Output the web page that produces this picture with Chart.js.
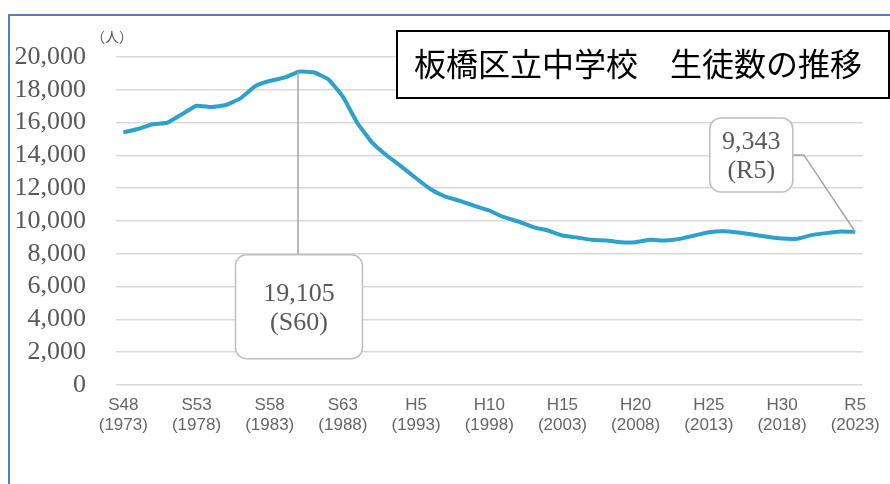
<!DOCTYPE html>
<html>
<head>
<meta charset="utf-8">
<script src="https://cdn.jsdelivr.net/npm/chart.js@4"></script>
<style>
  html, body { margin: 0; padding: 0; background: #fff; }
  #wrap { width: 890px; height: 484px; position: relative; }
</style>
</head>
<body>
<div id="wrap"><canvas id="chart"></canvas></div>
<script>
/* --------------- Data --------------------- */
const categories = [
  "S48", "S49", "S50", "S51", "S52", "S53", "S54", "S55", "S56", "S57",
  "S58", "S59", "S60", "S61", "S62", "S63", "H1", "H2", "H3", "H4",
  "H5", "H6", "H7", "H8", "H9", "H10", "H11", "H12", "H13", "H14",
  "H15", "H16", "H17", "H18", "H19", "H20", "H21", "H22", "H23", "H24",
  "H25", "H26", "H27", "H28", "H29", "H30", "R1", "R2", "R3", "R4", "R5"
];

const students = [
  15410, 15610, 15900, 15990, 16510, 17030, 16950, 17075, 17480, 18215,
  18540, 18740, 19105, 19070, 18640, 17580, 15960, 14780, 13990, 13320,
  12610, 11940, 11490, 11230, 10920, 10640, 10230, 9970, 9625, 9420,
  9120, 8990, 8850, 8810, 8710, 8710, 8850, 8810, 8910, 9115,
  9320, 9380, 9300, 9175, 9035, 8930, 8910, 9140, 9260, 9360, 9343
];

const tickLabels = [
  ["S48", "(1973)"], ["S53", "(1978)"], ["S58", "(1983)"], ["S63", "(1988)"],
  ["H5", "(1993)"], ["H10", "(1998)"], ["H15", "(2003)"], ["H20", "(2008)"],
  ["H25", "(2013)"], ["H30", "(2018)"], ["R5", "(2023)"]
];

const titleText = "板橋区立中学校　生徒数の推移";
const unitText = "（人）";

/* --------------- Callouts (peak and latest) --------------------- */
const callouts = [
  { index: 12, lines: ["19,105", "(S60)"], boxIndex: 12, boxValue: 4770, w: 127, h: 104, elbow: false },
  { index: 50, lines: ["9,343", "(R5)"], boxIndex: 42.9, boxValue: 14030, w: 83, h: 74, elbow: true }
];

/* --------------- Decorations --------------------- */
const decorations = {
  id: "decorations",
  beforeDraw(chart) {
    const ctx = chart.ctx;
    ctx.save();
    // outer frame
    ctx.strokeStyle = "#4F81BD";
    ctx.lineWidth = 2;
    ctx.beginPath();
    ctx.moveTo(9, 490);
    ctx.lineTo(9, 15);
    ctx.lineTo(900, 15);
    ctx.stroke();
    // unit label
    ctx.fillStyle = "#595959";
    ctx.font = "14px 'Noto Sans CJK JP'";
    ctx.textAlign = "center";
    ctx.textBaseline = "middle";
    ctx.fillText(unitText, 112, 37);
    ctx.restore();
  },
  afterDatasetsDraw(chart) {
    const ctx = chart.ctx;
    const xs = chart.scales.x;
    const ys = chart.scales.y;
    const step = xs.getPixelForValue(1) - xs.getPixelForValue(0);
    ctx.save();

    callouts.forEach((c) => {
      const px = xs.getPixelForValue(c.index);
      const py = ys.getPixelForValue(students[c.index]);
      const bx = xs.getPixelForValue(0) + step * c.boxIndex;
      const by = ys.getPixelForValue(c.boxValue);
      const left = bx - c.w / 2;
      const top = by - c.h / 2;

      // leader line
      ctx.strokeStyle = "#A6A6A6";
      ctx.lineWidth = 1.5;
      ctx.beginPath();
      if (c.elbow) {
        ctx.moveTo(left + c.w, by);
        ctx.lineTo(left + c.w + 11, by);
        ctx.lineTo(px, py);
      } else {
        ctx.moveTo(px - 1, py);
        ctx.lineTo(px - 1, top);
      }
      ctx.stroke();

      // box
      ctx.fillStyle = "#ffffff";
      ctx.strokeStyle = "#BFBFBF";
      ctx.lineWidth = 1.5;
      ctx.beginPath();
      ctx.roundRect(left, top, c.w, c.h, 11);
      ctx.fill();
      ctx.stroke();

      // text
      ctx.fillStyle = "#595959";
      ctx.font = "26px 'Liberation Serif'";
      ctx.textAlign = "center";
      ctx.textBaseline = "middle";
      ctx.fillText(c.lines[0], bx, by - 13);
      ctx.fillText(c.lines[1], bx, by + 16);
    });

    // title box
    ctx.fillStyle = "#ffffff";
    ctx.strokeStyle = "#000000";
    ctx.lineWidth = 2;
    ctx.fillRect(397, 31, 492, 67);
    ctx.strokeRect(397, 31, 492, 67);
    ctx.fillStyle = "#000000";
    ctx.font = "32px 'Noto Sans CJK JP'";
    ctx.textAlign = "center";
    ctx.textBaseline = "middle";
    ctx.fillText(titleText, 638, 64);

    ctx.restore();
  }
};

/* --------------- Chart --------------------- */
new Chart(document.getElementById("chart"), {
  type: "line",
  plugins: [decorations],
  data: {
    labels: categories,
    datasets: [
      {
        data: students,
        borderColor: "#2CA1CD",
        borderWidth: 4,
        pointRadius: 0,
        tension: 0.12,
        fill: false,
      },
    ],
  },
  options: {
    responsive: true,
    maintainAspectRatio: false,
    animation: false,
    layout: { padding: { top: 57, right: 22, bottom: 39, left: 0 } },
    plugins: {
      legend: { display: false },
      tooltip: { enabled: false },
    },
    scales: {
      x: {
        offset: true,
        grid: { display: false, drawTicks: false },
        border: { display: false },
        afterFit: (s) => { s.height = 60; },
        ticks: {
          autoSkip: false,
          maxRotation: 0,
          minRotation: 0,
          padding: 10,
          color: "#666666",
          font: { family: "'Liberation Sans'", size: 17, lineHeight: 1.2 },
          callback: (_, i) => (i % 5 === 0 ? tickLabels[i / 5] : ""),
        },
      },
      y: {
        min: 0,
        max: 20000,
        afterFit: (s) => { s.width = 116; },
        grid: { color: "#D9D9D9", lineWidth: 1.5, drawTicks: false },
        border: { display: false },
        ticks: {
          stepSize: 2000,
          autoSkip: false,
          padding: 30,
          color: "#595959",
          font: { family: "'Liberation Serif'", size: 26 },
          callback: (v) => v.toLocaleString("en-US"),
        },
      },
    },
  },
});
</script>
</body>
</html>
